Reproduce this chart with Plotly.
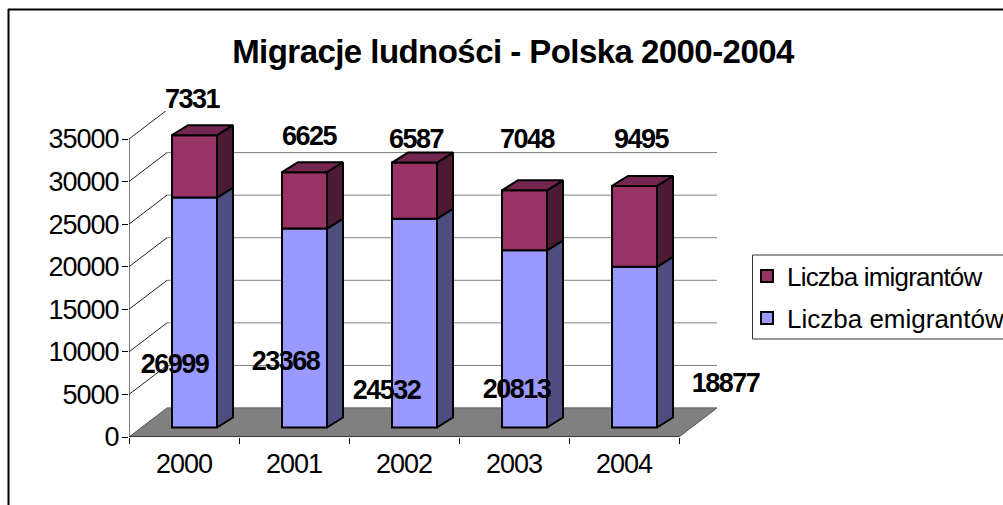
import plotly.graph_objects as go

# ---- data ----
years = ["2000", "2001", "2002", "2003", "2004"]
emigrants = [26999, 23368, 24532, 20813, 18877]
immigrants = [7331, 6625, 6587, 7048, 9495]
y_ticks = [0, 5000, 10000, 15000, 20000, 25000, 30000, 35000]
y_tick_text = ["0", "5000", "10000", "15000", "20000", "25000", "30000", "35000"]
title_text = "Migracje ludności - Polska 2000-2004"
name_emig = "Liczba emigrantów"
name_imig = "Liczba imigrantów"

# hand-placed data label offsets (pixels) relative to the bar tops
imig_dx = [8, 15, 12, 13, 17]
imig_dy = [46, 46, 33, 61, 56]
emig_dx = [-10, -9, -18, 2, 101]
emig_dy = [-157, -123, -162, -129, -107]

# ---- 3-D look, in axis units ----
FIG_W, FIG_H = 1003, 505
L, T, R, B = 129, 111, 717, 437
PX_X = 110.0                # pixels per category
PX_Y = 298.0 / 35000        # pixels per unit
WALL_DX, WALL_DY = 38 / PX_X, 29 / PX_Y
BAR_DX, BAR_DY = 16 / PX_X, 10 / PX_Y
BAR_X0, BAR_W = 43 / PX_X, 45 / PX_X
BAR_BASE = 9.5 / PX_Y
FONT = "Liberation Sans, Arial, sans-serif"

C_EMIG, C_EMIG_SIDE = "#9999FF", "#4D4D80"
C_IMIG, C_IMIG_SIDE, C_IMIG_TOP = "#993366", "#4D1A33", "#732650"

n = len(years)
xr = (R - L) / PX_X
yr = (B - T) / PX_Y

def px(v): return (v - L) / (R - L)
def py(v): return (B - v) / (B - T)

fig = go.Figure()

# front faces: real bars
fig.add_bar(x=[i + BAR_X0 for i in range(n)], y=emigrants, base=[BAR_BASE] * n,
            width=BAR_W, offset=0, name=name_emig, marker_color=C_EMIG,
            marker_line=dict(color="black", width=2), legend="legend2")
fig.add_bar(x=[i + BAR_X0 for i in range(n)], y=immigrants,
            base=[BAR_BASE + e for e in emigrants],
            width=BAR_W, offset=0, name=name_imig, marker_color=C_IMIG,
            marker_line=dict(color="black", width=2), legend="legend")

def side_poly(low, high):
    xs, ys = [], []
    for i in range(n):
        x1 = i + BAR_X0 + BAR_W
        y0, y1 = BAR_BASE + low[i], BAR_BASE + high[i]
        xs += [x1, x1 + BAR_DX, x1 + BAR_DX, x1, x1, None]
        ys += [y0, y0 + BAR_DY, y1 + BAR_DY, y1, y0, None]
    return xs, ys

def top_poly(high):
    xs, ys = [], []
    for i in range(n):
        x0 = i + BAR_X0
        y1 = BAR_BASE + high[i]
        xs += [x0, x0 + BAR_W, x0 + BAR_W + BAR_DX, x0 + BAR_DX, x0, None]
        ys += [y1, y1, y1 + BAR_DY, y1 + BAR_DY, y1, None]
    return xs, ys

totals = [e + m for e, m in zip(emigrants, immigrants)]
for (xs, ys), col in [
    (side_poly([0] * n, emigrants), C_EMIG_SIDE),
    (side_poly(emigrants, totals), C_IMIG_SIDE),
    (top_poly(totals), C_IMIG_TOP),
]:
    fig.add_scatter(x=xs, y=ys, mode="lines", fill="toself", fillcolor=col,
                    line=dict(color="black", width=2), showlegend=False,
                    hoverinfo="skip", cliponaxis=False)

# axis lines (they stop short of the back wall)
fig.add_scatter(x=[0, 0, n], y=[y_ticks[-1], 0, 0], mode="lines",
                line=dict(color="black", width=1), showlegend=False,
                hoverinfo="skip", cliponaxis=False)

shapes = []
# floor
shapes.append(dict(type="path", layer="below",
                   path=f"M0,0 L{n},0 L{n + WALL_DX},{WALL_DY} L{WALL_DX},{WALL_DY} Z",
                   fillcolor="#808080", line=dict(color="#555555", width=1)))
# gridlines
for v in y_ticks:
    if v > 0:
        shapes.append(dict(type="line", layer="below", x0=0, y0=v, x1=WALL_DX, y1=v + WALL_DY,
                           line=dict(color="#222222", width=1)))
    shapes.append(dict(type="line", layer="below", x0=WALL_DX, y0=v + WALL_DY, x1=n + WALL_DX, y1=v + WALL_DY,
                       line=dict(color="#808080", width=1)))
# outer chart frame (cut by the picture edge)
shapes.append(dict(type="line", xref="paper", yref="paper", x0=px(8.5), y0=py(505), x1=px(8.5), y1=py(9),
                   line=dict(color="black", width=2)))
shapes.append(dict(type="line", xref="paper", yref="paper", x0=px(8), y0=py(9.5), x1=px(1003), y1=py(9.5),
                   line=dict(color="black", width=2)))
# legend frame
shapes.append(dict(type="rect", xref="paper", yref="paper", x0=px(752.5), y0=py(339), x1=px(1010), y1=py(255),
                   line=dict(color="#333333", width=1), fillcolor="white", layer="below"))

LABEL_FONT = dict(size=27, family=FONT, color="black", weight="bold")
ann = []
for i in range(n):
    ann.append(dict(x=i + 0.5, y=totals[i], text=str(immigrants[i]), showarrow=False,
                    xshift=imig_dx[i], yshift=imig_dy[i], font=LABEL_FONT,
                    xanchor="center", yanchor="middle"))
    ann.append(dict(x=i + 0.5, y=emigrants[i], text=str(emigrants[i]), showarrow=False,
                    xshift=emig_dx[i], yshift=emig_dy[i], font=LABEL_FONT,
                    xanchor="center", yanchor="middle"))

AX_FONT = dict(size=27, family=FONT, color="black")
LEGEND_FONT = dict(size=26, family=FONT, color="black")
fig.update_layout(
    width=FIG_W, height=FIG_H, barmode="overlay",
    margin=dict(l=L, t=T, r=FIG_W - R, b=FIG_H - B, pad=0, autoexpand=False),
    paper_bgcolor="white", plot_bgcolor="rgba(0,0,0,0)",
    title=dict(text="<b>" + title_text + "</b>", x=(233 + 793) / 2 / FIG_W, xanchor="center",
               y=1 - 51 / FIG_H, yanchor="middle", font=dict(size=33, family=FONT, color="black")),
    xaxis=dict(range=[0, xr], tickvals=[i + 0.5 for i in range(n)], ticktext=years, ticks="", showgrid=False,
               zeroline=False, showline=False, tickfont=AX_FONT,
               ticklabelstandoff=8,
               minor=dict(tickvals=list(range(n + 1)), ticks="outside", ticklen=6, tickcolor="black", showgrid=False)),
    yaxis=dict(range=[0, yr], tickvals=y_ticks, ticktext=y_tick_text, ticks="outside", ticklen=6,
               tickcolor="black", showgrid=False, zeroline=False, showline=False, tickfont=AX_FONT,
               ticklabelstandoff=-2),
    shapes=shapes, annotations=ann,
    legend=dict(x=px(747), y=py(276), xanchor="left", yanchor="middle", bgcolor="rgba(0,0,0,0)",
                font=LEGEND_FONT, borderwidth=0),
    legend2=dict(x=px(747), y=py(318), xanchor="left", yanchor="middle", bgcolor="rgba(0,0,0,0)",
                 font=LEGEND_FONT, borderwidth=0),
)

CSS = (".xtick text,.ytick text{letter-spacing:-1px}"
       ".annotation-text{letter-spacing:-1.5px}"
       ".gtitle{letter-spacing:-0.55px}"
       ".legendtext{letter-spacing:-0.8px}")
fig.write_html("out.html", config=dict(displayModeBar=False),
               post_script="document.body.style.margin='0';document.body.style.overflow='hidden';"
                           "var s=document.createElement('style');s.textContent='" + CSS + "';document.head.appendChild(s);")
